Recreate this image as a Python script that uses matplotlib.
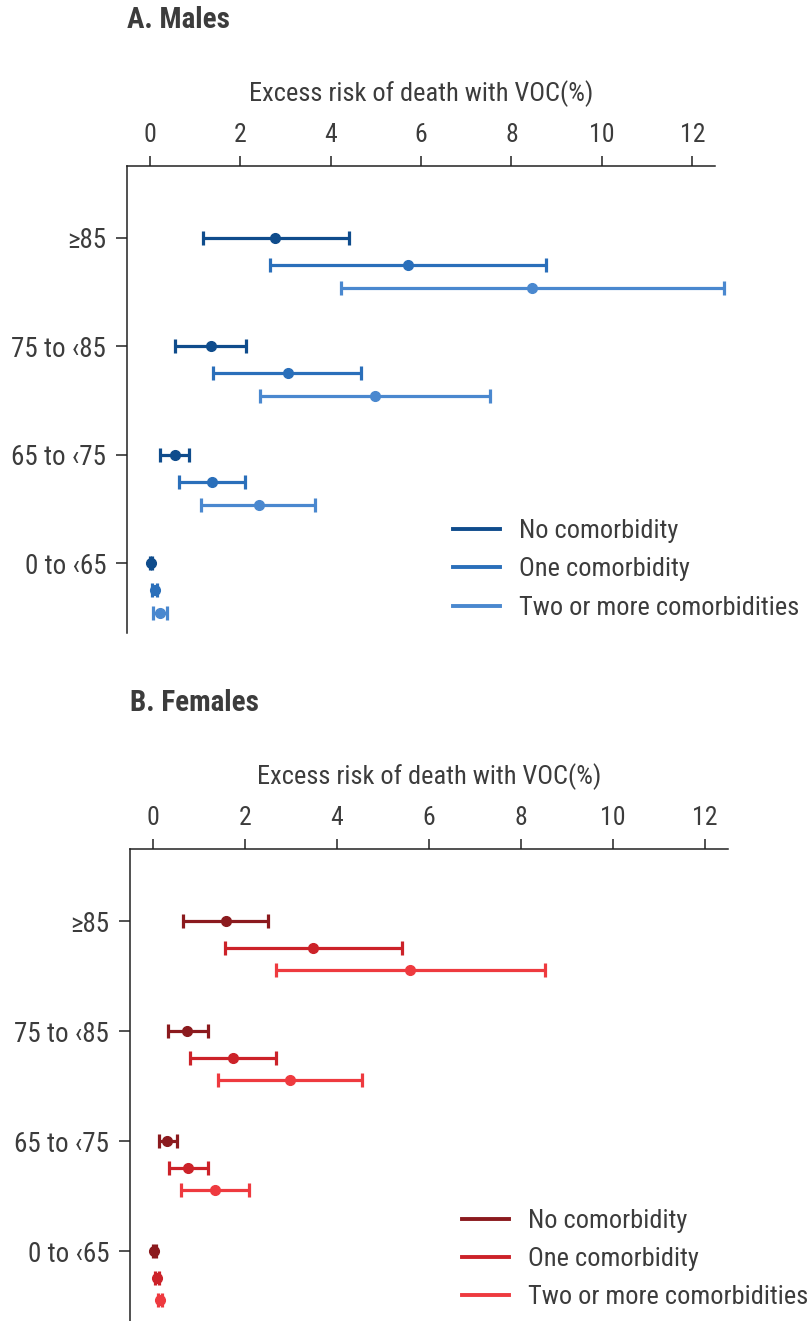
import matplotlib
matplotlib.use("Agg")
import matplotlib.pyplot as plt
from matplotlib.lines import Line2D
import numpy as np

plt.rcParams['font.family'] = ['Roboto Condensed', 'Open Sans Condensed', 'DejaVu Sans']
plt.rcParams['font.stretch'] = 'condensed'

# age bands, top to bottom
age_groups = ["≥85", "75 to ‹85", "65 to ‹75", "0 to ‹65"]
comorb_labels = ["No comorbidity", "One comorbidity", "Two or more comorbidities"]

# excess risk of death with VOC (%), rows = comorbidity group, cols = age band
male_est = [[2.78, 1.35, 0.57, 0.03],
            [5.72, 3.05, 1.37, 0.11],
            [8.45, 4.99, 2.41, 0.22]]
male_low = [[1.17, 0.57, 0.24, 0.00],
            [2.67, 1.41, 0.64, 0.05],
            [4.24, 2.45, 1.13, 0.08]]
male_high = [[4.41, 2.12, 0.88, 0.06],
             [8.76, 4.68, 2.10, 0.17],
             [12.69, 7.53, 3.66, 0.38]]

female_est = [[1.58, 0.74, 0.30, 0.03],
              [3.48, 1.73, 0.76, 0.08],
              [5.58, 2.97, 1.34, 0.15]]
female_low = [[0.65, 0.32, 0.13, 0.01],
              [1.56, 0.80, 0.35, 0.04],
              [2.68, 1.41, 0.61, 0.11]]
female_high = [[2.51, 1.19, 0.52, 0.06],
               [5.41, 2.68, 1.19, 0.13],
               [8.53, 4.55, 2.08, 0.20]]

male_colors = ["#0f4c8c", "#2a6fba", "#4a88cf"]
female_colors = ["#8b1a1e", "#cc2229", "#ee3a3f"]

TEXT = "#3c3c3c"
W, H = 811, 1321
fig = plt.figure(figsize=(W / 100, H / 100), dpi=100)


def forest(ax, est, low, high, colors, offsets, ylim, legend_xy):
    base = np.arange(len(age_groups))
    for i in range(3):
        e = np.array(est[i])
        lo = np.array(low[i])
        hi = np.array(high[i])
        bars = ax.errorbar(e, base + offsets[i], xerr=[e - lo, hi - e], fmt='o',
                           color=colors[i], ms=7, lw=2.3, capsize=5, capthick=2.3,
                           zorder=3)
        # the widest interval runs past the right end of the axis
        for artist in bars.lines[1] + bars.lines[2] + (bars.lines[0],):
            artist.set_clip_on(False)
    ax.set_xlim(-0.5, 12.5)
    ax.set_ylim(*ylim)
    ax.set_yticks(base)
    ax.set_yticklabels(age_groups)
    ax.set_xticks(range(0, 13, 2))
    ax.xaxis.tick_top()
    ax.xaxis.set_label_position('top')
    for s in ['right', 'bottom']:
        ax.spines[s].set_visible(False)
    for s in ['top', 'left']:
        ax.spines[s].set_linewidth(1.1)
        ax.spines[s].set_color("#222222")
    ax.tick_params(axis='x', length=7, width=1.1, pad=7, labelsize=18.5,
                   labelcolor=TEXT, color="#222222")
    ax.tick_params(axis='y', length=8, width=1.1, pad=7, labelsize=19.5,
                   labelcolor=TEXT, color="#222222")
    ax.set_xlabel("Excess risk of death with VOC(%)", fontsize=19, color=TEXT)
    ax.xaxis.set_label_coords(0.5, 1 + 72 / (ax.get_position().height * H))
    ax.xaxis.label.set_verticalalignment('center')

    handles = [Line2D([0], [0], color=c, lw=2.8) for c in colors]
    ax.legend(handles, comorb_labels, loc='upper left', bbox_to_anchor=legend_xy,
              frameon=False, fontsize=19, labelcolor=TEXT, borderpad=0,
              borderaxespad=0, handlelength=1.8, handletextpad=0.72,
              labelspacing=0.54)


# A. Males
ax1 = fig.add_axes([127 / W, 1 - 633 / H, 588 / W, 467 / H])
forest(ax1, male_est, male_low, male_high, male_colors,
       [0, 0.25, 0.46], (3.645, -0.664), (0.554, 0.2436))
fig.text(127 / W, 1 - 20 / H, "A. Males", fontsize=21, fontweight='bold',
         color=TEXT, ha='left', va='center')

# B. Females
ax2 = fig.add_axes([130 / W, 0, 598 / W, 472 / H])
forest(ax2, female_est, female_low, female_high, female_colors,
       [0, 0.245, 0.445], (3.636, -0.655), (0.555, 0.2376))
fig.text(130 / W, 1 - 703 / H, "B. Females", fontsize=21, fontweight='bold',
         color=TEXT, ha='left', va='center')

fig.savefig("out.png", dpi=100)
